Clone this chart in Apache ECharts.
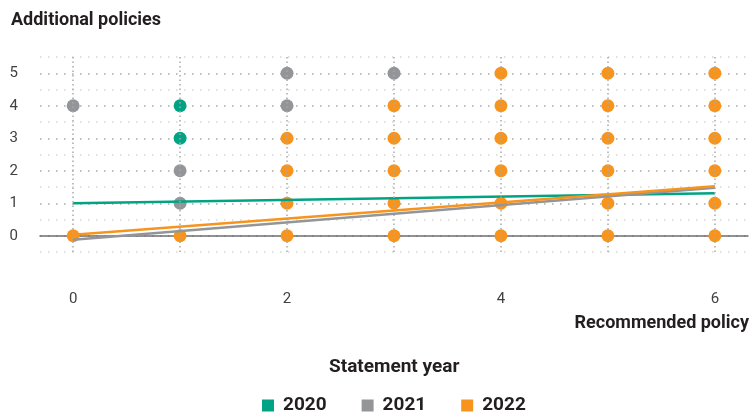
<!DOCTYPE html>
<html>
<head>
<meta charset="utf-8">
<script src="https://cdn.jsdelivr.net/npm/echarts@6/dist/echarts.min.js"></script>
<style>
  html, body { margin: 0; padding: 0; background: #fff; }
  #main { width: 751px; height: 412px; }
</style>
</head>
<body>
<div id="main"></div>
<script>
  // statement years
  var years = ['2020', '2021', '2022'];
  var colors = ['#00a383', '#939598', '#f7941d'];

  // points: [recommended policy, additional policies]
  var pts2020 = [[1, 4], [1, 3]];
  var pts2021 = [[0, 4], [1, 2], [1, 1], [2, 5], [2, 4], [3, 5]];
  var pts2022 = [
    [0, 0], [1, 0],
    [2, 0], [2, 1], [2, 2], [2, 3],
    [3, 0], [3, 1], [3, 2], [3, 3], [3, 4],
    [4, 0], [4, 1], [4, 2], [4, 3], [4, 4], [4, 5],
    [5, 0], [5, 1], [5, 2], [5, 3], [5, 4], [5, 5],
    [6, 0], [6, 1], [6, 2], [6, 3], [6, 4], [6, 5]
  ];

  // trend lines, start and end
  var trend2020 = [[0, 1.0], [6, 1.31]];
  var trend2021 = [[0, -0.12], [6, 1.48]];
  var trend2022 = [[0, 0.03], [6, 1.52]];

  var xGrid = [0, 1, 2, 3, 4, 5, 6];
  var xLabels = [0, 2, 4, 6];

  var font = '"Roboto", sans-serif';
  var chart = echarts.init(document.getElementById('main'));

  chart.setOption({
    animation: false,
    textStyle: { fontFamily: font },
    title: [
      { text: 'Additional policies', left: 6, top: 6,
        textStyle: { fontFamily: font, fontSize: 18, fontWeight: 'bold', color: '#231f20' } },
      { text: 'Recommended policy', right: -3, top: 309,
        textStyle: { fontFamily: font, fontSize: 18, fontWeight: 'bold', color: '#231f20' } },
      { text: 'Statement year', left: 324, top: 353,
        textStyle: { fontFamily: font, fontSize: 19, fontWeight: 'bold', color: '#231f20' } }
    ],
    legend: {
      data: years,
      top: 391,
      left: 257,
      icon: 'rect',
      itemWidth: 12,
      itemHeight: 12,
      itemGap: 35,
      textStyle: { fontFamily: font, fontSize: 19, fontWeight: 'bold', color: '#231f20', padding: [0, 0, 0, 4] }
    },
    grid: { left: 40, right: 1, top: 57, bottom: 160 },
    xAxis: {
      type: 'value',
      min: -0.31,
      max: 6.31,
      splitLine: { show: false },
      axisTick: { show: false },
      axisLine: { onZero: true, lineStyle: { color: '#6d6e71', width: 1.5 } },
      axisLabel: {
        margin: 40,
        fontSize: 15,
        color: '#414042',
        formatter: function (v) { return xLabels.indexOf(v) >= 0 ? String(v) : ''; }
      }
    },
    yAxis: {
      type: 'value',
      min: -0.5,
      max: 5.5,
      interval: 0.5,
      axisLine: { show: false },
      axisTick: { show: false },
      axisLabel: {
        margin: 22,
        fontSize: 15,
        color: '#414042',
        formatter: function (v) { return v % 1 === 0 ? String(v) : ''; }
      },
      splitLine: {
        lineStyle: { color: ['#d6d6d6', '#a7a9ac'], type: [1.5, 6.5], width: 1.5 }
      }
    },
    series: [
      {
        type: 'line', data: [], z: 1, silent: true,
        markLine: {
          silent: true, symbol: 'none', label: { show: false },
          lineStyle: { color: '#a7a9ac', type: [1.5, 3], width: 1.5 },
          data: xGrid.map(function (v) { return { xAxis: v }; })
        }
      },
      { name: years[0], type: 'scatter', data: pts2020, symbolSize: 13, itemStyle: { color: colors[0], opacity: 1 }, z: 3 },
      { name: years[1], type: 'scatter', data: pts2021, symbolSize: 13, itemStyle: { color: colors[1], opacity: 1 }, z: 3 },
      { name: years[2], type: 'scatter', data: pts2022, symbolSize: 13, itemStyle: { color: colors[2], opacity: 1 }, z: 3 },
      { name: years[0], type: 'line', data: trend2020, showSymbol: false, lineStyle: { color: colors[0], width: 2.5 }, itemStyle: { color: colors[0] }, z: 4 },
      { name: years[1], type: 'line', data: trend2021, showSymbol: false, lineStyle: { color: colors[1], width: 2.5 }, itemStyle: { color: colors[1] }, z: 5 },
      { name: years[2], type: 'line', data: trend2022, showSymbol: false, lineStyle: { color: colors[2], width: 2.5 }, itemStyle: { color: colors[2] }, z: 6 }
    ]
  });
</script>
</body>
</html>
